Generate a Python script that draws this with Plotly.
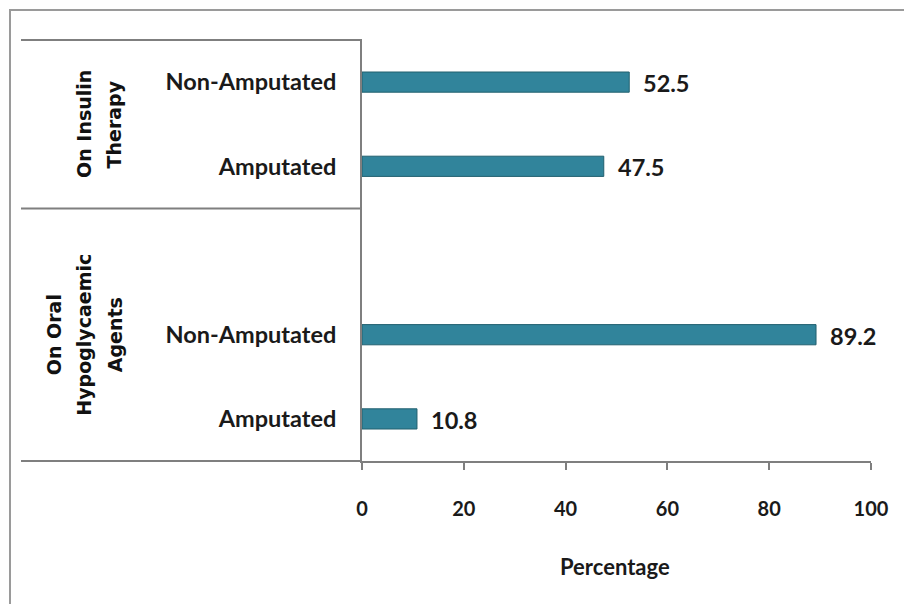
import plotly.graph_objects as go

# Rows from top to bottom; "spacer" keeps an empty slot at the top of the second group
row_keys = ["ins_non", "ins_amp", "spacer", "oral_non", "oral_amp"]
row_labels = ["Non-Amputated", "Amputated", "", "Non-Amputated", "Amputated"]
percentages = [52.5, 47.5, None, 89.2, 10.8]

# Treatment groups: text lines of each group label and the rows they span
group_lines = [["On Insulin", "Therapy"], ["On Oral", "Hypoglycaemic", "Agents"]]
group_rows = [(0, 1), (2, 4)]

x_ticks = [0, 20, 40, 60, 80, 100]

W, H = 904, 604
ML, MR, MT, MB = 362, 33, 40, 143
PW, PH = W - ML - MR, H - MT - MB

FONT = "Lato"
GROUP_FONT = "DejaVu Sans"
BAR_FILL = "#31849B"
BAR_EDGE = "#22606F"
AXIS_GRAY = "#7F7F7F"


def px_x(px):
    """Page x pixel -> paper coordinate."""
    return (px - ML) / PW


def px_y(py):
    """Page y pixel -> paper coordinate."""
    return 1 - (py - MT) / PH


fig = go.Figure()
fig.add_trace(
    go.Bar(
        x=percentages,
        y=row_keys,
        orientation="h",
        marker=dict(color=BAR_FILL, line=dict(color=BAR_EDGE, width=1)),
        hoverinfo="skip",
        showlegend=False,
    )
)

# Value labels next to each bar end
for key, val in zip(row_keys, percentages):
    if val is None:
        continue
    fig.add_annotation(
        x=val, y=key, xref="x", yref="y",
        text=f"{val}", showarrow=False,
        xanchor="left", yanchor="middle", xshift=12, yshift=-1,
        font=dict(family=FONT, size=23.5, color="#1a1a1a", weight="bold"),
    )

# Rotated group labels, one annotation per text line
group_centers_px = [99, 84]
line_step = 30.5
for lines, (r0, r1), cx in zip(group_lines, group_rows, group_centers_px):
    n = len(lines)
    for i, line in enumerate(lines):
        lx = cx + (i - (n - 1) / 2) * line_step
        fig.add_annotation(
            x=px_x(lx), y=(r0 + r1) / 2, xref="paper", yref="y",
            text=line, showarrow=False, textangle=-90,
            xanchor="center", yanchor="middle",
            font=dict(family=GROUP_FONT, size=19, color="#111111", weight="bold"),
        )

# Axis title
fig.add_annotation(
    x=px_x(615), y=px_y(566), xref="paper", yref="paper",
    text="Percentage", showarrow=False,
    xanchor="center", yanchor="middle",
    font=dict(family=FONT, size=22, color="#1a1a1a", weight="bold"),
)

line_style = dict(color=AXIS_GRAY, width=2)
shapes = [
    # outer frame (only left and top edges fall inside the page)
    dict(type="rect", xref="paper", yref="paper",
         x0=px_x(10), x1=px_x(W + 20), y0=px_y(H + 20), y1=px_y(10),
         line=dict(color="#9A9A9A", width=2), fillcolor="rgba(0,0,0,0)", layer="below"),
    # top edge of the category label box
    dict(type="line", xref="paper", yref="paper",
         x0=px_x(21), x1=0, y0=1, y1=1, line=line_style),
    # divider between treatment groups
    dict(type="line", xref="paper", yref="y",
         x0=px_x(21), x1=0, y0=1.5, y1=1.5, line=line_style),
    # bottom edge of the label box, continuing the x axis line
    dict(type="line", xref="paper", yref="paper",
         x0=px_x(21), x1=0, y0=0, y1=0, line=line_style),
]

fig.update_layout(
    width=W, height=H,
    margin=dict(l=ML, r=MR, t=MT, b=MB, pad=0),
    paper_bgcolor="white", plot_bgcolor="white",
    bargap=0.76,
    shapes=shapes,
    font=dict(family=FONT, color="#1a1a1a"),
)

fig.update_xaxes(
    range=[0, 100], tickvals=x_ticks, ticktext=[str(t) for t in x_ticks],
    showgrid=False, zeroline=False,
    showline=True, linecolor=AXIS_GRAY, linewidth=2,
    ticks="outside", ticklen=7, tickwidth=2, tickcolor=AXIS_GRAY,
    ticklabelstandoff=22,
    tickfont=dict(family=FONT, size=20, color="#1a1a1a", weight="bold"),
    fixedrange=True,
)

fig.update_yaxes(
    type="category", categoryorder="array", categoryarray=row_keys,
    tickvals=row_keys, ticktext=row_labels,
    autorange=False, range=[len(row_keys) - 0.5, -0.5],
    showgrid=False, zeroline=False,
    showline=True, linecolor=AXIS_GRAY, linewidth=2,
    ticks="", ticklabelstandoff=19,
    tickfont=dict(family=FONT, size=23.5, color="#1a1a1a", weight="bold"),
    fixedrange=True,
)

fig.write_html("out.html", config={"displayModeBar": False})
